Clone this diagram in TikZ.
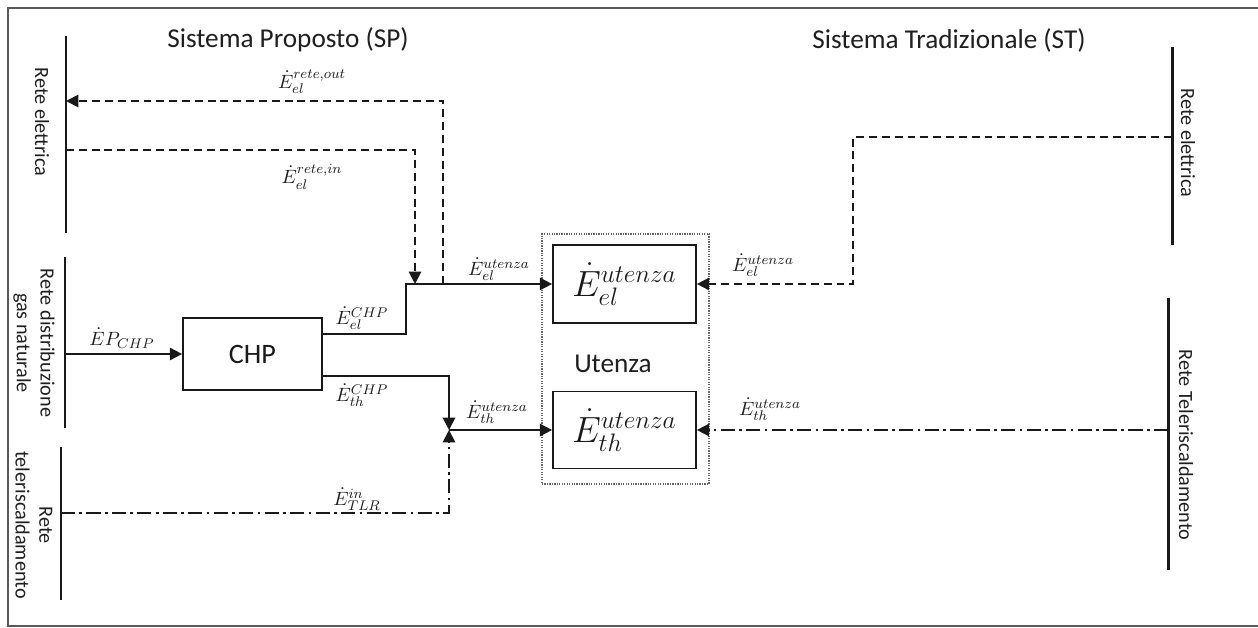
\documentclass[tikz,border=0pt]{standalone}
\usepackage{fontspec}
\setmainfont{Carlito}
\usetikzlibrary{arrows.meta}
\begin{document}
\begin{tikzpicture}[x=0.02cm,y=-0.02cm,
  every node/.style={text=black!88, inner sep=0pt},
  bar/.style={line width=1.7pt, black!90},
  flow/.style={line width=1.05pt, black!90},
  tip/.style={-{Triangle[length=7pt,width=7pt]}},
  dashline/.style={flow, dash pattern=on 4.5pt off 2.8pt},
  dotdash/.style={flow, dash pattern=on 8pt off 2.5pt on 1.5pt off 2.5pt},
  boxnode/.style={draw, line width=1pt, black!90},
  title/.style={font=\fontsize{15.5}{18}\selectfont},
  sidelabel/.style={font=\fontsize{11.5}{13.5}\selectfont, rotate=-90, align=center},
  flowlabel/.style={font=\fontsize{11}{13}\selectfont},
  biglabel/.style={font=\fontsize{22}{26}\selectfont}
]
\useasboundingbox (0,0) rectangle (1258,628);
% frame
\draw[line width=1.1pt, black!65] (1258,8) -- (8,8) -- (8,626) -- (1258,626);

% titles
\node[title] (tsp) at (288,40) {Sistema Proposto (SP)};
\node[title] (tst) at (949,40) {Sistema Tradizionale (ST)};

% left bars
\coordinate (lbeT) at (66,36);   \coordinate (lbeB) at (66,233);
\coordinate (lbgT) at (65,257);  \coordinate (lbgB) at (65,428);
\coordinate (lbtT) at (61,447);  \coordinate (lbtB) at (61,600);
\draw[bar] (lbeT) -- (lbeB);
\draw[bar] (lbgT) -- (lbgB);
\draw[bar] (lbtT) -- (lbtB);
\node[sidelabel] (llbe) at (42,122) {Rete elettrica};
\node[sidelabel] (llbg) at (34,343) {Rete distribuzione\\gas naturale};
\node[sidelabel] (llbt) at (34,525) {Rete\\teleriscaldamento};

% right bars
\coordinate (rbeT) at (1172,47);  \coordinate (rbeB) at (1172,245);
\coordinate (rbtT) at (1168,298); \coordinate (rbtB) at (1168,570);
\draw[bar] (rbeT) -- (rbeB);
\draw[bar] (rbtT) -- (rbtB);
\node[sidelabel] (lrbe) at (1188,143) {Rete elettrica};
\node[sidelabel] (lrbt) at (1186,445) {Rete Teleriscaldamento};

% boxes
\node[boxnode, minimum width=2.78cm, minimum height=1.44cm,
      font=\fontsize{16}{19}\selectfont] (chp) at (252.5,354) {CHP};
\node[draw, black!60, line width=1.3pt, dash pattern=on 0.7pt off 0.7pt,
      minimum width=3.34cm, minimum height=5.0cm] (ut) at (625.5,359) {};
\node[boxnode, minimum width=2.86cm, minimum height=1.56cm, biglabel] (elb) at (624.5,284)
  {$\dot{E}_{el}^{utenza}$};
\node[boxnode, minimum width=2.86cm, minimum height=1.54cm, biglabel] (thb) at (624.5,430)
  {$\dot{E}_{th}^{utenza}$};
\node[font=\fontsize{15.5}{18}\selectfont] (utl) at (613,364) {Utenza};

% coordinates
\coordinate (gasP) at (65,354);
\coordinate (elout) at (322,334);
\coordinate (thout) at (322,376);
\coordinate (jstep) at (406,284);
\coordinate (jin) at (415,284);
\coordinate (jout) at (443,284);
\coordinate (jth) at (449,430);
\coordinate (lbeIn) at (66,150);
\coordinate (lbeOut) at (66,101);
\coordinate (tlrP) at (61,513);
\coordinate (rbeP) at (1172,137);
\coordinate (stel) at (853,284);
\coordinate (rbtP) at (1168,430);

% SP flows
\draw[flow, tip] (gasP) -- (chp.west);
\draw[flow, tip] (elout) -| (jstep) -- (elb.west);
\draw[flow, tip] (thout) -| (jth);
\draw[flow, tip] (jth) -- (thb.west);
\draw[dotdash, tip] (tlrP) -| (jth);
\draw[dashline, tip] (lbeIn) -| (jin);
\draw[dashline, tip] (jout) |- (lbeOut);

% ST flows
\draw[dashline, tip] (rbeP) -| (stel) -- (elb.east);
\draw[dotdash, tip] (rbtP) -- (thb.east);

% flow labels
\node[flowlabel] (lep) at (122,338) {$\dot{E}P_{CHP}$};
\node[flowlabel] (lelchp) at (362,318) {$\dot{E}_{el}^{CHP}$};
\node[flowlabel] (lthchp) at (362,395) {$\dot{E}_{th}^{CHP}$};
\node[flowlabel] (lout) at (312,82) {$\dot{E}_{el}^{rete,out}$};
\node[flowlabel] (lin) at (312,177) {$\dot{E}_{el}^{rete,in}$};
\node[flowlabel] (leu) at (499,269) {$\dot{E}_{el}^{utenza}$};
\node[flowlabel] (ltu) at (497,412) {$\dot{E}_{th}^{utenza}$};
\node[flowlabel] (ltlr) at (357,499) {$\dot{E}_{TLR}^{in}$};
\node[flowlabel] (steu) at (763,265) {$\dot{E}_{el}^{utenza}$};
\node[flowlabel] (sttu) at (770,409) {$\dot{E}_{th}^{utenza}$};
\end{tikzpicture}
\end{document}
